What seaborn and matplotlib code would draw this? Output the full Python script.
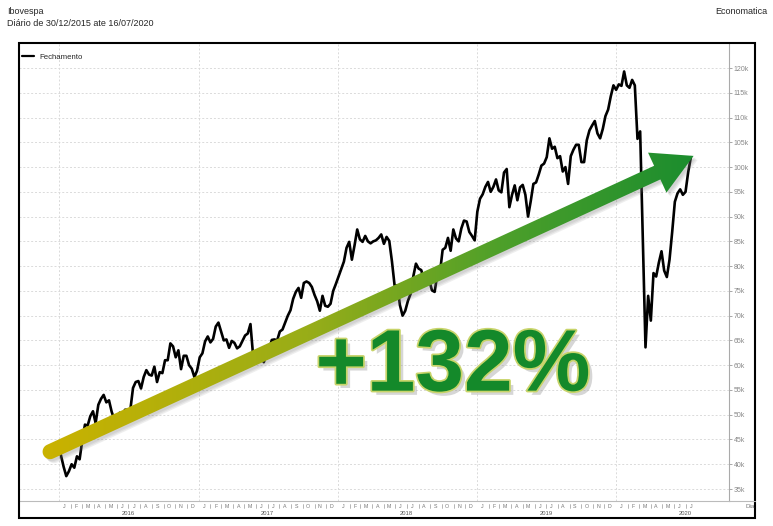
import numpy as np
import pandas as pd
import seaborn as sns
import matplotlib
matplotlib.use('Agg')
import matplotlib.pyplot as plt
import matplotlib.dates as mdates
import matplotlib.patheffects as pe
from matplotlib.patches import Polygon, Rectangle
from matplotlib.lines import Line2D
from matplotlib.transforms import IdentityTransform, blended_transform_factory
from matplotlib.colors import LinearSegmentedColormap

# Ibovespa, weekly closes (thousand points), from 30/12/2015
close_2016 = [43.3,
              41.8, 39.5, 37.6, 38.6,
              40.0, 39.3, 41.6, 41.0,
              44.9, 48.0, 47.8, 49.7, 50.7,
              48.3, 52.0, 53.2, 54.0,
              52.5, 52.9, 50.6, 49.0,
              48.6, 50.4, 49.3, 51.0, 51.0,
              51.0, 55.4, 56.6, 56.8,
              55.3, 57.6, 59.0, 58.1, 57.9,
              59.7, 56.6, 58.6, 58.4,
              61.0, 61.0, 64.4, 63.8,
              61.6, 63.0, 59.2, 61.9, 61.9,
              60.0, 59.3, 57.6, 58.9]
close_2017 = [61.6, 62.4, 64.8, 65.8,
              64.6, 65.3, 67.8, 68.6,
              66.8, 65.0, 65.2, 63.5, 64.9,
              64.5, 63.4, 63.8, 64.9,
              66.0, 66.4, 68.3, 61.9, 62.7,
              62.1, 61.7, 60.6, 62.2,
              63.2, 65.1, 65.2, 65.0,
              66.8, 67.2, 68.6, 70.0, 71.1,
              73.4, 74.8, 75.6, 73.6,
              76.6, 76.9, 76.6, 75.8,
              74.2, 72.9, 71.0, 74.0, 72.0,
              71.8, 72.4, 75.0, 76.4]
close_2018 = [77.9, 79.4, 80.9, 83.7, 84.9,
              81.3, 84.2, 87.4, 85.4,
              84.9, 86.1, 85.0, 84.6,
              85.0, 85.2, 85.7, 86.4,
              84.5, 85.9, 85.1, 81.0, 76.1,
              76.1, 72.1, 70.0, 71.0,
              73.0, 74.4, 77.9, 80.5,
              79.5, 79.2, 77.1, 76.4, 77.1,
              75.1, 74.8, 78.3, 78.7,
              83.3, 83.7, 85.7, 83.1, 87.4,
              85.6, 85.0, 87.6, 89.2,
              89.0, 86.9, 86.1, 85.2]
close_2019 = [91.0, 93.6, 94.5, 96.0, 97.0,
              95.0, 96.0, 97.5, 95.3,
              94.9, 98.9, 99.6, 91.9,
              94.4, 96.3, 93.3, 95.9,
              96.4, 94.4, 90.0, 93.1, 96.6,
              96.9, 98.5, 100.3, 100.7,
              102.0, 105.8, 103.7, 104.1, 101.8,
              102.2, 99.1, 100.0, 96.6,
              102.2, 103.5, 104.5, 104.5,
              101.0, 101.0, 105.4, 107.4, 108.4,
              109.3, 106.8, 105.8, 107.7,
              110.3, 111.6, 114.3, 116.5]
close_2020 = [115.6, 116.7, 116.4, 119.3, 116.5,
              116.0, 117.6, 116.5, 105.7,
              107.2, 85.2, 63.6, 74.0,
              69.0, 78.6, 77.9, 80.7, 83.0,
              79.1, 77.8, 81.3, 86.9,
              93.0, 94.7, 95.5, 94.4,
              95.0, 99.0, 102.0]
closes = close_2016 + close_2017 + close_2018 + close_2019 + close_2020
dates = pd.date_range('2015-12-30', periods=len(closes), freq='7D')
df = pd.DataFrame({'Data': dates, 'Fechamento': closes})

y_ticks = list(range(35, 125, 5))
years = [2016, 2017, 2018, 2019, 2020]
month_letters = ['J', 'F', 'M', 'A', 'M', 'J', 'J', 'A', 'S', 'O', 'N', 'D']
months_2020 = 7

W, H = 773, 526
sns.set_style('white')
plt.rcParams['font.family'] = ['Liberation Sans', 'DejaVu Sans']

fig = plt.figure(figsize=(W / 100, H / 100), dpi=100)
ax = fig.add_axes([19 / W, 25 / H, 710 / W, 458 / H])

sns.lineplot(data=df, x='Data', y='Fechamento', ax=ax, color='black', lw=1.9,
             legend=False, zorder=3)

ax.set_xlim(pd.Timestamp('2015-09-18'), pd.Timestamp('2020-10-23'))
ax.set_ylim(32.58, 125.05)
ax.set_xlabel('')
ax.set_ylabel('')

# right hand value axis
ax.yaxis.tick_right()
ax.set_yticks(y_ticks)
ax.set_yticklabels([f'{v}k' for v in y_ticks])
ax.tick_params(axis='y', direction='out', length=2.5, width=0.6, color='#999999',
               labelsize=5, labelcolor='#888888', pad=1)

# year separators on the date axis
year_starts = [pd.Timestamp(f'{y}-01-01') for y in years]
ax.set_xticks(year_starts)
ax.set_xticklabels([''] * len(years))
ax.tick_params(axis='x', direction='out', length=11.5, width=0.7, color='#aaaaaa')
ax.grid(True, ls=(0, (2, 2)), color='#dadada', lw=0.7)

for side in ['left', 'top']:
    ax.spines[side].set_visible(False)
ax.spines['right'].set_color('#aaaaaa')
ax.spines['right'].set_linewidth(0.8)
ax.spines['bottom'].set_color('#bbbbbb')
ax.spines['bottom'].set_linewidth(0.8)

# month letters and year labels under the axis
trans = blended_transform_factory(ax.transData, ax.transAxes)
for y in years:
    n_m = months_2020 if y == 2020 else 12
    for m in range(n_m):
        ax.text(pd.Timestamp(y, m + 1, 15), -0.011, month_letters[m], transform=trans,
                ha='center', va='center', fontsize=3.8, color='#777777')
        if m > 0:
            ax.plot([pd.Timestamp(y, m + 1, 1)] * 2, [-0.0066, -0.0153], transform=trans,
                    color='#999999', lw=0.5, clip_on=False)
    ax.text(pd.Timestamp(y, 7, 1), -0.027, str(y), transform=trans,
            ha='center', va='center', fontsize=4.2, color='#555555')

# legend
ax.legend(handles=[Line2D([], [], color='black', lw=1.6)], labels=['Fechamento'],
          loc='center left', bbox_to_anchor=(0.004, 0.969), frameon=False,
          fontsize=5.6, handlelength=1.6, handletextpad=0.7, borderpad=0, borderaxespad=0)

# gradient arrow from first to last close
p0 = ax.transData.transform((mdates.date2num(dates[0]), closes[0]))
p1 = ax.transData.transform((mdates.date2num(dates[-1]), closes[-1]))
u = (p1 - p0) / np.hypot(*(p1 - p0))
nrm = np.array([-u[1], u[0]])
tail = p0 - 9 * u
tip = p1 + 3 * u
base = tip - 40 * u
w, hw = 7.5, 22
ang_n = np.arctan2(nrm[1], nrm[0])
arc = [tail + w * np.array([np.cos(ang_n + a), np.sin(ang_n + a)])
       for a in np.linspace(0, np.pi, 24)]
pts = np.array([base + nrm * w, base + nrm * hw, tip, base - nrm * hw, base - nrm * w]
               + arc[::-1])

for off in [(4, -4), (3, -3), (2, -2)]:
    ax.add_patch(Polygon(pts + np.array(off), closed=True, transform=IdentityTransform(),
                         fc='#777777', ec='none', alpha=0.12, zorder=4))

arrow = Polygon(pts, closed=True, transform=IdentityTransform(), fc='none', ec='none')
ax.add_patch(arrow)
cmap = LinearSegmentedColormap.from_list(
    'arr', [(0, '#c9b200'), (0.4, '#98ad18'), (0.7, '#4ea02a'), (1, '#1b8d2e')])
gx = np.linspace(0, 1, 512)
gt = np.clip((gx - 0.044) / (0.95 - 0.044), 0, 1).reshape(1, -1)
img = ax.imshow(gt, extent=[0, 1, 0, 1], transform=ax.transAxes, cmap=cmap,
                aspect='auto', interpolation='bilinear', zorder=5)
img.set_clip_path(arrow)
ax.set_xlim(pd.Timestamp('2015-09-18'), pd.Timestamp('2020-10-23'))
ax.set_ylim(32.58, 125.05)

ax.text(0.611, 0.29, '+132%', transform=ax.transAxes, ha='center', va='center',
        fontsize=63, fontweight='bold', color='#14892a', zorder=6,
        path_effects=[pe.withSimplePatchShadow(offset=(3, -3), shadow_rgbFace='#999999', alpha=0.4),
                      pe.Stroke(linewidth=2.5, foreground='#c8d46a'), pe.Normal()])

# frame, titles
fig.add_artist(Rectangle((19 / W, 8 / H), 736 / W, 475 / H, transform=fig.transFigure,
                         fill=False, ec='black', lw=1.5))
fig.add_artist(Line2D([729 / W, 755 / W], [25 / H, 25 / H], transform=fig.transFigure,
                      color='#bbbbbb', lw=0.8))
fig.text(7 / W, 1 - 12 / H, 'Ibovespa', fontsize=6.5, va='center', ha='left')
fig.text(7 / W, 1 - 23 / H, 'Diário de 30/12/2015 ate 16/07/2020', fontsize=6.5,
         va='center', ha='left')
fig.text(767 / W, 1 - 12 / H, 'Economatica', fontsize=6.5, va='center', ha='right')
fig.text(745 / W, 1 - 507 / H, 'Dia', fontsize=4.5, va='center', ha='left', color='#777777')

fig.savefig('out.png', dpi=100)
